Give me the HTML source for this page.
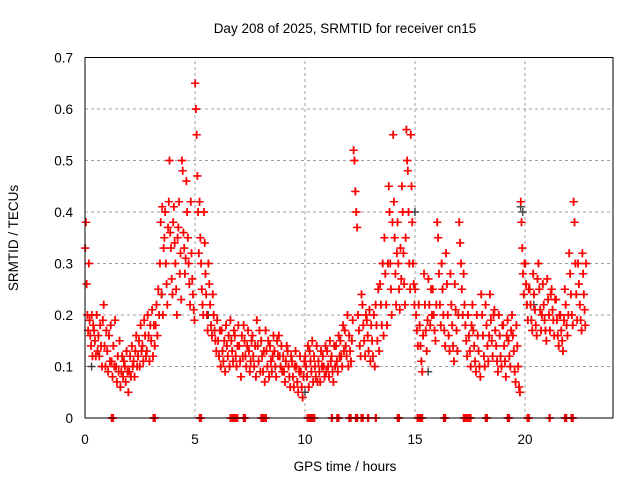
<!DOCTYPE html>
<html><head><meta charset="utf-8"><style>
html,body{margin:0;padding:0;background:#fff;}
svg{display:block;font-family:"Liberation Sans",sans-serif;}
</style></head><body>
<svg id="chart" width="640" height="480" viewBox="0 0 640 480" xmlns="http://www.w3.org/2000/svg">
<rect width="640" height="480" fill="#fff"/>
<text x="345" y="33" font-size="13.5" text-anchor="middle" fill="#000">Day 208 of 2025, SRMTID for receiver cn15</text>
<text transform="translate(18,238) rotate(-90)" font-size="13.5" text-anchor="middle" fill="#000">SRMTID / TECUs</text>
<text x="345" y="471" font-size="13.5" text-anchor="middle" fill="#000">GPS time / hours</text>
<g id="grid"></g>
<g id="ticks"></g>
<g id="marks-gray"></g>
<g id="marks"></g>
<rect x="85" y="57.5" width="528" height="360.5" fill="none" stroke="#000" stroke-width="1"/>
</svg>
<script>
const xTicks=[0,5,10,15,20];
const yTicks=[0,0.1,0.2,0.3,0.4,0.5,0.6,0.7];
const yTickLabels=["0","0.1","0.2","0.3","0.4","0.5","0.6","0.7"];
const slotHours=[0,0.2,0.4,0.6,0.8,1,1.2,1.4,1.6,1.8,2,2.2,2.4,2.6,2.8,3,3.2,3.4,3.6,3.8,4,4.2,4.4,4.6,4.8,5,5.2,5.4,5.6,5.8,6,6.2,6.4,6.6,6.8,7,7.2,7.4,7.6,7.8,8,8.2,8.4,8.6,8.8,9,9.2,9.4,9.6,9.8,10,10.2,10.4,10.6,10.8,11,11.2,11.4,11.6,11.8,12,12.2,12.4,12.6,12.8,13,13.2,13.4,13.6,13.8,14,14.2,14.4,14.6,14.8,15,15.2,15.4,15.6,15.8,16,16.2,16.4,16.6,16.8,17,17.2,17.4,17.6,17.8,18,18.2,18.4,18.6,18.8,19,19.2,19.4,19.6,19.8,20,20.2,20.4,20.6,20.8,21,21.2,21.4,21.6,21.8,22,22.2,22.4,22.6];
const slotValues=[
[0.33,0.38,0.26,0.2,0.17,0.3],[0.19,0.16,0.14,0.2,0.12,0.18],[0.17,0.15,0.12,0.2,0.13],[0.16,0.12,0.18,0.14,0.1],[0.19,0.22,0.14,0.1,0.17],
[0.13,0.09,0.16,0.11,0.18],[0.11,0.08,0.14,0.1,0.19],[0.1,0.07,0.12,0.09,0.15],[0.06,0.09,0.12,0.08,0.11],[0.1,0.07,0.13,0.09,0.05],
[0.09,0.12,0.08,0.14,0.1],[0.11,0.08,0.13,0.16,0.1],[0.12,0.15,0.1,0.18,0.13],[0.14,0.11,0.19,0.16,0.12],[0.13,0.2,0.16,0.11,0.18],
[0.15,0.21,0.12,0.18,0.14],[0.18,0.22,0.16,0.25,0.2],[0.3,0.38,0.24,0.41,0.2,0.33],[0.35,0.4,0.3,0.26,0.22,0.37],[0.42,0.5,0.36,0.33,0.27,0.24],
[0.38,0.41,0.34,0.3,0.25,0.2],[0.35,0.37,0.42,0.28,0.32,0.23],[0.5,0.48,0.36,0.33,0.28,0.31],[0.46,0.4,0.35,0.3,0.26,0.22],[0.42,0.32,0.27,0.24,0.21,0.19],
[0.65,0.6,0.55,0.47,0.4,0.32],[0.42,0.35,0.3,0.25,0.22,0.2],[0.4,0.34,0.28,0.24,0.2,0.17],[0.3,0.26,0.22,0.18,0.16],[0.24,0.2,0.17,0.15,0.13],
[0.19,0.15,0.12,0.17,0.1],[0.17,0.13,0.11,0.15,0.09],[0.18,0.14,0.12,0.16,0.1],[0.19,0.15,0.13,0.11,0.17],[0.16,0.12,0.1,0.14,0.18],
[0.14,0.11,0.08,0.16,0.12],[0.18,0.15,0.12,0.1,0.14],[0.17,0.13,0.09,0.11,0.15],[0.16,0.12,0.1,0.14,0.08],[0.19,0.14,0.11,0.17,0.09],
[0.15,0.12,0.09,0.13,0.07],[0.17,0.13,0.1,0.15,0.08],[0.14,0.11,0.09,0.12,0.16],[0.13,0.1,0.08,0.15,0.12],[0.16,0.12,0.1,0.14,0.09],
[0.12,0.09,0.07,0.11,0.14],[0.13,0.1,0.08,0.06,0.12],[0.11,0.08,0.06,0.1,0.13],[0.1,0.07,0.05,0.09,0.12],[0.09,0.06,0.04,0.08,0.11],
[0.12,0.1,0.08,0.14,0.06],[0.13,0.11,0.09,0.15,0.07],[0.12,0.1,0.08,0.14,0.07],[0.11,0.09,0.07,0.13,0.1],[0.12,0.1,0.08,0.14,0.09],
[0.13,0.1,0.08,0.15,0.11],[0.12,0.09,0.07,0.14,0.1],[0.14,0.11,0.09,0.16,0.12],[0.15,0.12,0.1,0.18,0.13],[0.17,0.14,0.12,0.2,0.1],
[0.16,0.13,0.11,0.15,0.19],[0.52,0.5,0.44,0.4,0.37],[0.2,0.17,0.14,0.12,0.24],[0.22,0.18,0.15,0.12,0.2],[0.19,0.16,0.13,0.21,0.11],
[0.18,0.15,0.12,0.2,0.1],[0.22,0.18,0.15,0.25,0.13],[0.26,0.22,0.18,0.3,0.16],[0.35,0.28,0.22,0.18,0.3],[0.45,0.4,0.3,0.25,0.2,0.38],
[0.55,0.42,0.35,0.28,0.22,0.32],[0.38,0.3,0.25,0.21,0.33,0.27],[0.45,0.4,0.32,0.26,0.22,0.35],[0.56,0.5,0.48,0.4,0.3,0.25],[0.55,0.45,0.38,0.3,0.26,0.22],
[0.25,0.2,0.17,0.14,0.22],[0.18,0.14,0.11,0.09,0.16],[0.28,0.22,0.17,0.13,0.19],[0.27,0.22,0.18,0.25,0.2],[0.25,0.2,0.17,0.15,0.22],
[0.38,0.35,0.28,0.22,0.18],[0.3,0.25,0.2,0.17,0.14],[0.32,0.26,0.2,0.16,0.13],[0.28,0.22,0.18,0.14,0.11],[0.26,0.21,0.17,0.13,0.2],
[0.38,0.34,0.3,0.25,0.2],[0.28,0.22,0.18,0.15,0.12],[0.2,0.16,0.13,0.1,0.18],[0.22,0.17,0.14,0.11,0.09],[0.2,0.16,0.13,0.1,0.08],
[0.24,0.2,0.16,0.12,0.1],[0.22,0.18,0.14,0.11,0.16],[0.24,0.19,0.15,0.12,0.2],[0.21,0.17,0.14,0.11,0.09],[0.2,0.16,0.12,0.1,0.18],
[0.18,0.14,0.11,0.08,0.16],[0.19,0.15,0.12,0.1,0.17],[0.2,0.16,0.13,0.09,0.07],[0.18,0.14,0.1,0.06,0.05],[0.42,0.38,0.33,0.28,0.24,0.3],
[0.3,0.26,0.22,0.19,0.25],[0.25,0.22,0.19,0.17,0.28],[0.24,0.21,0.18,0.16,0.27],[0.3,0.25,0.21,0.17,0.2],[0.26,0.22,0.19,0.17,0.15],
[0.27,0.23,0.2,0.17,0.24],[0.25,0.21,0.19,0.16,0.23],[0.23,0.19,0.16,0.14,0.2],[0.2,0.17,0.15,0.13,0.19],[0.25,0.22,0.18,0.16,0.2],
[0.32,0.28,0.24,0.2,0.18],[0.42,0.38,0.3,0.24,0.19],[0.3,0.26,0.22,0.19,0.17],[0.32,0.28,0.24,0.21,0.18,0.3]
];
const zeroHours=[1.2,1.25,3.1,3.15,5.2,5.25,6.6,6.7,6.8,6.9,7.2,7.25,8.0,8.1,8.2,10.1,10.2,10.3,10.4,11.2,11.45,11.5,12.0,12.05,12.3,12.35,12.55,12.6,12.85,13.2,14.2,14.25,15.1,15.2,15.3,16.3,16.35,17.2,17.3,17.4,17.5,18.2,18.25,19.2,19.25,20.1,20.15,21.1,21.8,21.85,22.1,22.15];
const grayHours=[0.3,5.6,10.0,15.0,19.8,19.9,20.4,15.6,3.5];
const grayValues=[0.1,0.2,0.05,0.4,0.41,0.4,0.22,0.09,0.24];

const X0=85,X1=613,Y0=418,Y1=57.5,XMAX=24,YMAX=0.7;
const sx=h=>X0+(X1-X0)*h/XMAX;
const sy=v=>Y0-(Y0-Y1)*v/YMAX;
const NS="http://www.w3.org/2000/svg";
function mk(tag,attrs,parent){const e=document.createElementNS(NS,tag);for(const k in attrs)e.setAttribute(k,attrs[k]);parent.appendChild(e);return e;}
const grid=document.getElementById('grid'),ticks=document.getElementById('ticks');
yTicks.forEach((v,i)=>{
  const y=sy(v);
  if(v>0&&v<YMAX){const g=mk('line',{x1:X0,x2:X1,y1:y,y2:y,stroke:'#a0a0a0','stroke-dasharray':'3,3','stroke-width':1},grid);
  
  }
  const t=mk('text',{x:X0-12,y:y+5,'font-size':13.5,'text-anchor':'end',fill:'#000'},ticks);t.textContent=yTickLabels[i];
  
  
});
xTicks.forEach(h=>{
  const x=sx(h);
  if(h>0){const g=mk('line',{x1:x,x2:x,y1:Y0,y2:Y1,stroke:'#a0a0a0','stroke-dasharray':'3,3','stroke-width':1},grid);
  
  }
  const t=mk('text',{x:x,y:Y0+26,'font-size':13.5,'text-anchor':'middle',fill:'#000'},ticks);t.textContent=String(h);
  
  
});
function plus(h,v,color,parent){
  const x=sx(h),y=sy(v);
  const p=mk('path',{d:`M${x-4},${y}H${x+4}M${x},${y-4}V${y+4}`,stroke:color,'stroke-width':1.4,fill:'none'},parent);
  
  
}
const gm=document.getElementById('marks-gray'),rm=document.getElementById('marks');
grayHours.forEach((h,i)=>plus(h,grayValues[i],'#404040',gm));
slotHours.forEach((h,i)=>{
  const vals=slotValues[i];
  vals.forEach((v,j)=>{
    plus(h+0.2*j/vals.length,v,'#ff0000',rm);
    plus(h+0.2*(j+0.5)/vals.length,v,'#ff0000',rm);
  });
});
zeroHours.forEach(h=>{plus(h,0,'#ff0000',rm);plus(h+0.04,0,'#ff0000',rm);});
</script>
</body></html>
